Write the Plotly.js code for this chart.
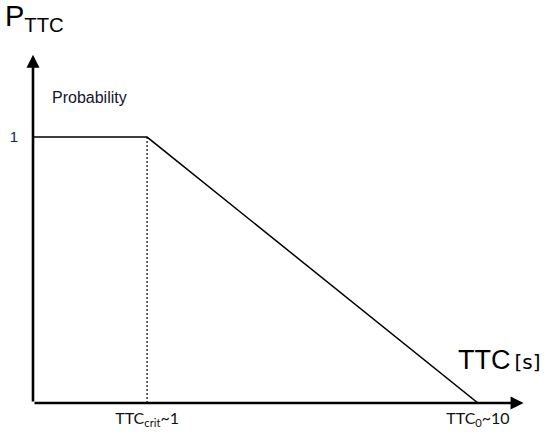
<!DOCTYPE html>
<html>
<head>
<meta charset="utf-8">
<script src="https://cdn.plot.ly/plotly-3.0.1.min.js"></script>
<style>
  html, body { margin: 0; padding: 0; background: #fff; }
  #plot { width: 550px; height: 438px; }
</style>
</head>
<body>
<div id="plot"></div>
<script>
// probability curve: flat at 1 until TTC_crit, then falls to 0 at TTC_0
// (x in drawing units, not seconds: crit sits at 1, TTC_0 at 3.9)
const probX = [0, 1, 3.9];
const probY = [1, 1, 0];

const critX = [1, 1];
const critY = [0, 1];

const xTickVals = [1, 3.9];
const xTickText = ["TTC<sub>crit</sub>~1", "TTC<sub>0</sub>~10"];
const yTickVals = [1];
const yTickText = ["1"];

const xEnd = 4.3;   // arrow tip of x axis
const yEnd = 1.31;  // arrow tip of y axis

let traces = [
    {
        x: probX, y: probY,
        mode: "lines",
        line: { color: "#000", width: 1.5 },
        hoverinfo: "skip"
    },
    {
        x: critX, y: critY,
        mode: "lines",
        line: { color: "#000", width: 1.2, dash: "2px,2px" },
        hoverinfo: "skip"
    }
];

let axisArrow = (x, y) => ({
    x: x, y: y, ax: 0, ay: 0,
    xref: "x", yref: "y", axref: "x", ayref: "y",
    text: "", showarrow: true,
    arrowhead: 2, arrowsize: 1, arrowwidth: 2.6, arrowcolor: "#000",
    standoff: 0, startstandoff: 0
});

let layout = {
    width: 550, height: 438,
    margin: { l: 33, r: 15, t: 40, b: 35 },
    paper_bgcolor: "#fff", plot_bgcolor: "#fff",
    showlegend: false,
    xaxis: {
        range: [0, 4.40],
        showgrid: false, zeroline: false, showline: false,
        tickvals: xTickVals, ticktext: xTickText,
        ticks: "", ticklabelstandoff: 4,
        tickfont: { family: "Lato, 'Liberation Sans', sans-serif", size: 16, color: "#111" },
        fixedrange: true
    },
    yaxis: {
        range: [0, 1.365],
        showgrid: false, zeroline: false, showline: false,
        tickvals: yTickVals, ticktext: yTickText,
        ticks: "", ticklabelstandoff: 14,
        tickfont: { family: "'Liberation Sans', Arial, sans-serif", size: 15, color: "#1a2250" },
        fixedrange: true
    },
    annotations: [
        axisArrow(xEnd, 0),
        axisArrow(0, yEnd),
        {
            xref: "paper", yref: "paper", x: -0.06, y: 1.115,
            xanchor: "left", yanchor: "top", showarrow: false,
            text: "P<sub>TTC</sub>",
            font: { family: "'Liberation Sans', Arial, sans-serif", size: 29, color: "#000" }
        },
        {
            xref: "x", yref: "y", x: 0.15, y: 1.15,
            xanchor: "left", yanchor: "middle", showarrow: false,
            text: "Probability",
            font: { family: "'Liberation Sans', Arial, sans-serif", size: 16, color: "#14142e" }
        },
        {
            xref: "x", yref: "y", x: 3.71, y: 0.16,
            xanchor: "left", yanchor: "middle", showarrow: false,
            text: "TTC<span style='font-size:20px;font-family:DejaVu Sans'>&#8201;[s]</span>",
            font: { family: "'Liberation Sans', Arial, sans-serif", size: 27, color: "#000" }
        }
    ]
};

Plotly.newPlot("plot", traces, layout, { displayModeBar: false, staticPlot: true });
</script>
</body>
</html>
